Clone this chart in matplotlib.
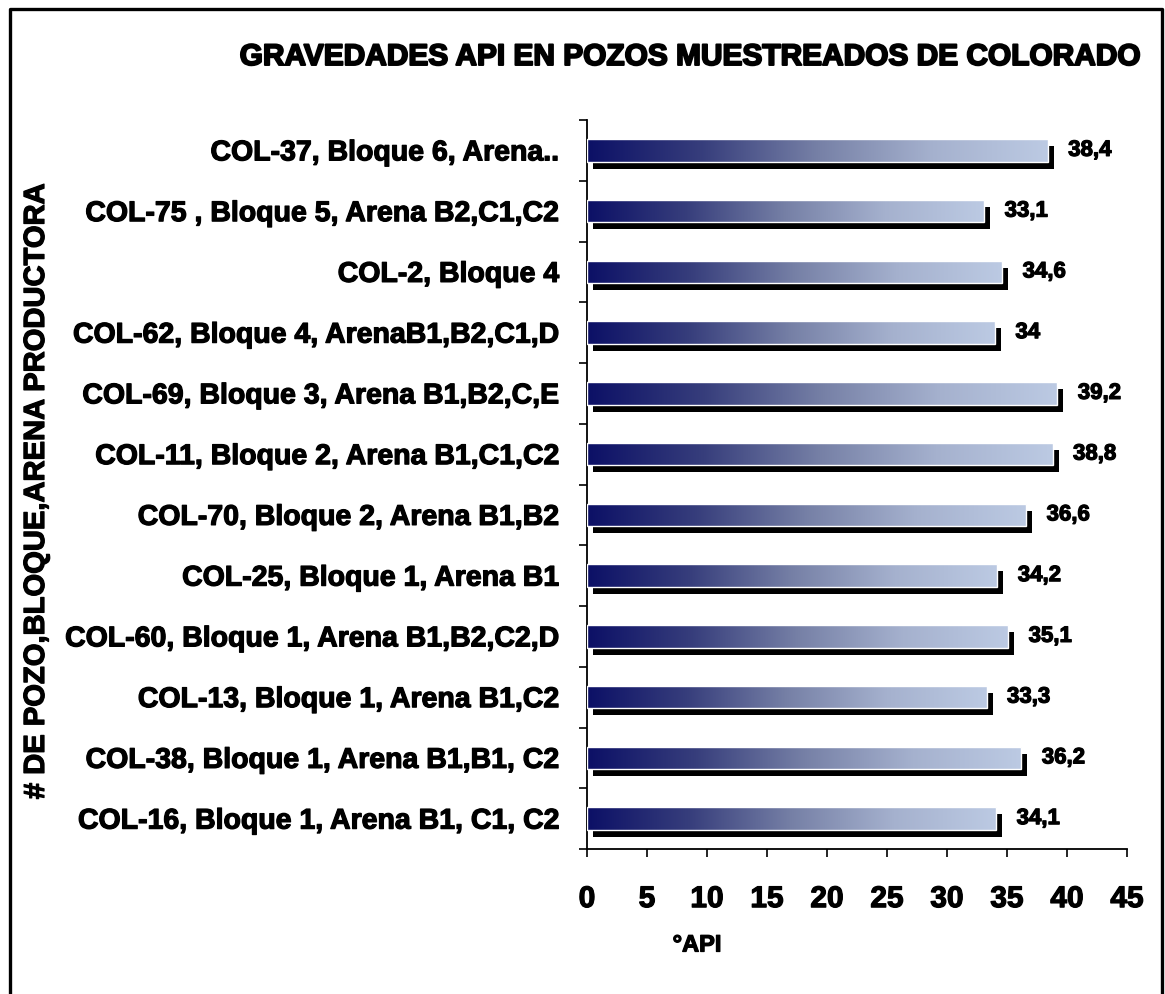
import numpy as np
import matplotlib
matplotlib.use('Agg')
import matplotlib.pyplot as plt
import matplotlib.patheffects as pe
from matplotlib.colors import LinearSegmentedColormap
from matplotlib.patches import Rectangle

plt.rcParams['font.family'] = ['Liberation Sans', 'DejaVu Sans']
plt.rcParams['font.weight'] = 'bold'

# datos, de arriba hacia abajo
pozos = [
    'COL-37, Bloque 6, Arena..',
    'COL-75 , Bloque 5, Arena B2,C1,C2',
    'COL-2, Bloque 4',
    'COL-62, Bloque 4, ArenaB1,B2,C1,D',
    'COL-69, Bloque 3, Arena B1,B2,C,E',
    'COL-11, Bloque 2, Arena B1,C1,C2',
    'COL-70, Bloque 2, Arena B1,B2',
    'COL-25, Bloque 1, Arena B1',
    'COL-60, Bloque 1, Arena B1,B2,C2,D',
    'COL-13, Bloque 1, Arena B1,C2',
    'COL-38, Bloque 1, Arena B1,B1, C2',
    'COL-16, Bloque 1, Arena B1, C1, C2',
]
api = [38.4, 33.1, 34.6, 34, 39.2, 38.8, 36.6, 34.2, 35.1, 33.3, 36.2, 34.1]
xticks = [0, 5, 10, 15, 20, 25, 30, 35, 40, 45]

W, H = 1165, 994
fig = plt.figure(figsize=(W / 100, H / 100), dpi=100)

# trazo extra para que el texto se vea tan grueso como en el original
heavy = [pe.withStroke(linewidth=0.9, foreground='black')]

# marco exterior (abierto por abajo, como en el recorte original)
fig.add_artist(plt.Line2D([10 / W, 10 / W, 1162 / W, 1162 / W],
                          [0, 1 - 9 / H, 1 - 9 / H, 0],
                          transform=fig.transFigure, color='black', lw=2.4))

ax = fig.add_axes([587 / W, 1 - 849 / H, (1127 - 587) / W, (849 - 120) / H])

cmap = LinearSegmentedColormap.from_list(
    'api', ['#0c1066', '#373e7c', '#7680a6', '#a5b1ce', '#bccae3'])
grad = np.linspace(0, 1, 256).reshape(1, -1)

h = 0.37
dx, dy = 0.5, 0.115
y = np.arange(len(pozos))

# sombra negra desplazada
ax.barh(y + dy, api, left=dx, height=h, color='black', zorder=1)
for yi, v in zip(y, api):
    bar = Rectangle((0, yi - h / 2), v, h, facecolor='none',
                    edgecolor='white', lw=1.0, zorder=3)
    ax.add_patch(bar)
    im = ax.imshow(grad, cmap=cmap, aspect='auto', interpolation='bilinear',
                   extent=[0, v, yi + h / 2, yi - h / 2], zorder=2)
    im.set_clip_path(bar)
    ax.text(v + 1.7, yi, f'{v:g}'.replace('.', ','), va='center', ha='left',
            fontsize=16, fontweight='bold', path_effects=heavy)

ax.set_xlim(0, 45)
ax.set_ylim(len(pozos) - 0.5, -0.5)
ax.set_aspect('auto')

ax.set_xticks(xticks)
ax.set_xticklabels([str(t) for t in xticks], fontsize=21.5, fontweight='bold')
ax.tick_params(axis='x', direction='out', length=6, width=1.2, pad=20)

ax.set_yticks(y)
ax.set_yticklabels(pozos, fontsize=20.5, fontweight='bold')
ax.set_yticks(np.arange(-0.5, len(pozos)), minor=True)
ax.tick_params(axis='y', which='major', length=0, pad=20)
ax.tick_params(axis='y', which='minor', direction='out', length=6, width=1.2)

for lab in ax.get_xticklabels() + ax.get_yticklabels():
    lab.set_path_effects(heavy)

for s in ['top', 'right']:
    ax.spines[s].set_visible(False)
for s in ['left', 'bottom']:
    ax.spines[s].set_linewidth(1.3)

fig.text(690 / W, 1 - 57 / H, 'GRAVEDADES API EN POZOS MUESTREADOS DE COLORADO',
         ha='center', va='center', fontsize=21.5, fontweight='bold',
         path_effects=[pe.withStroke(linewidth=1.4, foreground='black')])
fig.text(36 / W, 1 - 491 / H, '# DE POZO,BLOQUE,ARENA PRODUCTORA',
         rotation=90, ha='center', va='center', fontsize=21, fontweight='bold',
         path_effects=heavy)
fig.text(697 / W, 1 - 945 / H, '°API', ha='center', va='center',
         fontsize=17, fontweight='bold', path_effects=heavy)

fig.savefig('out.png', dpi=100)
